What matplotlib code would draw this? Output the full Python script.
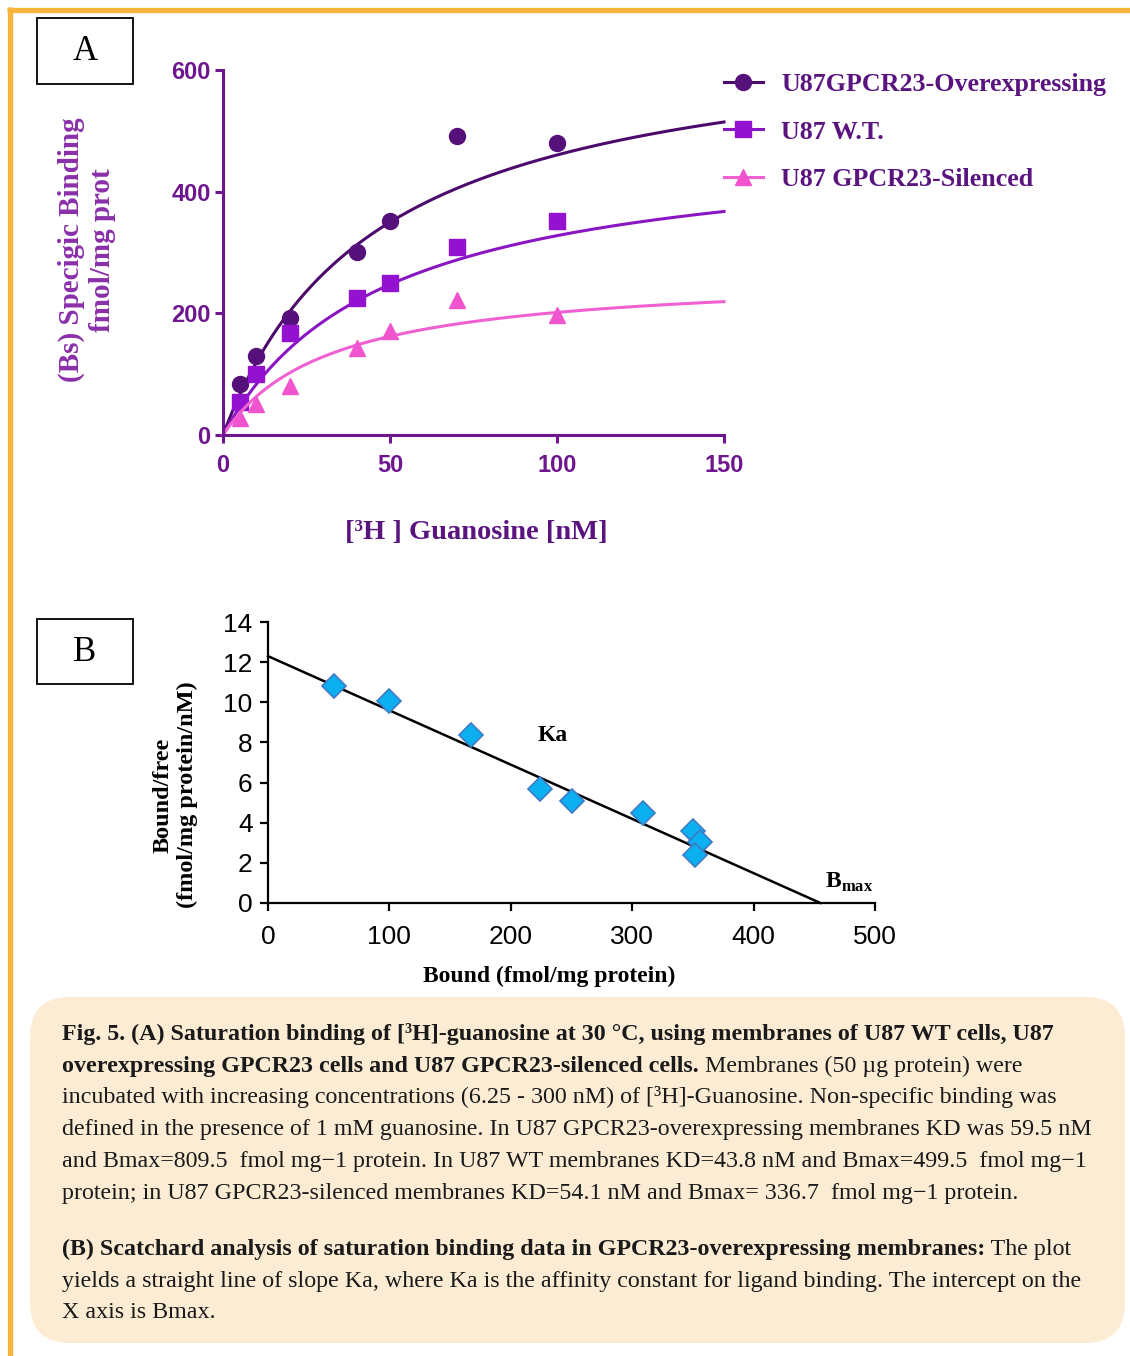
import numpy as np
import matplotlib
matplotlib.use("Agg")
import matplotlib.pyplot as plt
from matplotlib.lines import Line2D
from matplotlib.patches import Rectangle, FancyBboxPatch

plt.rcParams["font.family"] = "Liberation Serif"
plt.rcParams["mathtext.fontset"] = "custom"
plt.rcParams["mathtext.rm"] = "Liberation Serif"
plt.rcParams["mathtext.bf"] = "Liberation Serif:bold"

# Panel A: saturation binding (nM vs fmol/mg prot)
conc = [5, 10, 20, 40, 50, 70, 100]
over_bs = [84, 130, 192, 301, 352, 492, 480]
wt_bs = [54, 100, 168, 225, 250, 309, 352]
sil_bs = [28, 51, 80, 143, 171, 222, 197]
# fitted one-site curves (Bmax, Kd)
over_fit = (673, 46.2)
wt_fit = (485, 48.0)
sil_fit = (266, 32.0)
series_names = ["U87GPCR23-Overexpressing", "U87 W.T.", "U87 GPCR23-Silenced"]

# Panel B: Scatchard
bound = [54, 100, 167, 224, 250, 309, 350, 356, 352]
bound_free = [10.8, 10.06, 8.37, 5.68, 5.08, 4.48, 3.59, 3.04, 2.39]
scat_intercept = 12.3
scat_bmax = 455

W, H = 1130, 1356
fig = plt.figure(figsize=(W / 100, H / 100), dpi=100)

# background layer in pixel coordinates
bg = fig.add_axes([0, 0, 1, 1], zorder=0)
bg.set_xlim(0, W)
bg.set_ylim(H, 0)
bg.axis("off")

orange = "#f9b43c"
bg.plot([7, W], [9.5, 9.5], color=orange, lw=3.8, solid_capstyle="butt")
bg.plot([9.5, 9.5], [7, H], color=orange, lw=3.8, solid_capstyle="butt")

for lab, (x0, y0, x1, y1) in [("A", (37, 18, 133, 84)), ("B", (37, 619, 133, 684))]:
    bg.add_patch(Rectangle((x0, y0), x1 - x0, y1 - y0, fill=False, ec="black", lw=1.3))
    bg.text((x0 + x1) / 2, (y0 + y1) / 2 + 1, lab, ha="center", va="center", fontsize=25)

bg.add_patch(FancyBboxPatch((30 + 40, 997 + 40), 1095 - 80, 346 - 80,
                            boxstyle="round,pad=40", fc="#fdecd4", ec="none"))

cap_lines = [
    [("Fig. 5. (A) Saturation binding of [³H]-guanosine at 30 °C, using membranes of U87 WT cells, U87", "bold")],
    [("overexpressing GPCR23 cells and U87 GPCR23-silenced cells.", "bold"),
     (" Membranes (50 µg protein) were", "normal")],
    [("incubated with increasing concentrations (6.25 - 300 nM) of [³H]-Guanosine. Non-specific binding was", "normal")],
    [("defined in the presence of 1 mM guanosine. In U87 GPCR23-overexpressing membranes KD was 59.5 nM", "normal")],
    [("and Bmax=809.5  fmol mg−1 protein. In U87 WT membranes KD=43.8 nM and Bmax=499.5  fmol mg−1", "normal")],
    [("protein; in U87 GPCR23-silenced membranes KD=54.1 nM and Bmax= 336.7  fmol mg−1 protein.", "normal")],
    [("(B) Scatchard analysis of saturation binding data in GPCR23-overexpressing membranes:", "bold"),
     (" The plot", "normal")],
    [("yields a straight line of slope Ka, where Ka is the affinity constant for ligand binding. The intercept on the", "normal")],
    [("X axis is Bmax.", "normal")],
]
baselines = [1040, 1071.7, 1103.4, 1135, 1166.8, 1198.5, 1255, 1286.7, 1318.4]
cap_size = 17.3
for segs, yb in zip(cap_lines, baselines):
    prev = None
    for s, wgt in segs:
        if prev is None:
            prev = bg.text(62, yb, s, fontsize=cap_size, fontweight=wgt, va="baseline", color="#1a1a1a")
        else:
            prev = bg.annotate(s, xy=(1, 0), xycoords=prev, va="bottom", ha="left",
                               fontsize=cap_size, fontweight=wgt, color="#1a1a1a")

# ---------------- Panel A ----------------
axA = fig.add_axes([223 / W, 1 - 435 / H, 501 / W, 365 / H], zorder=2)
axA.patch.set_alpha(0)
purple = "#6e168f"
colors = ["#55107a", "#9212cf", "#f055cf"]
line_colors = ["#4c0a6c", "#8a15c2", "#f060d2"]
markers = ["o", "s", "^"]
data_a = [over_bs, wt_bs, sil_bs]
fits = [over_fit, wt_fit, sil_fit]

xs = np.linspace(0, 150, 300)
for ys, (bmax, kd), c, lc, m in zip(data_a, fits, colors, line_colors, markers):
    axA.plot(xs, bmax * xs / (kd + xs), color=lc, lw=2.2, clip_on=False)
    axA.plot(conc, ys, linestyle="none", marker=m, ms=11.5, color=c, mec=c, clip_on=False)

axA.set_xlim(0, 150)
axA.set_ylim(0, 600)
axA.set_xticks([0, 50, 100, 150])
axA.set_yticks([0, 200, 400, 600])
for sp in ["top", "right"]:
    axA.spines[sp].set_visible(False)
for sp in ["left", "bottom"]:
    axA.spines[sp].set_color(purple)
    axA.spines[sp].set_linewidth(2.2)
axA.tick_params(colors=purple, width=2.2, length=6, direction="out", labelsize=17)
axA.tick_params(axis="x", pad=8)
axA.tick_params(axis="y", pad=3)
for t in axA.get_xticklabels() + axA.get_yticklabels():
    t.set_fontfamily("Liberation Sans")
    t.set_fontweight("bold")

axA.set_xlabel("[³H ] Guanosine [nM]", fontsize=20.5, fontweight="bold", color="#5a1480", va="center")
axA.xaxis.set_label_coords(0.505, -0.268)
axA.set_ylabel("(Bs) Specigic Binding\nfmol/mg prot", fontsize=21, fontweight="bold", color="#8a30aa",
               va="center", ha="center", linespacing=1.2)
axA.yaxis.set_label_coords(-0.271, 0.507)

handles = [Line2D([], [], color=lc, lw=2.2, marker=m, ms=11.5, mfc=c, mec=c)
           for c, lc, m in zip(colors, line_colors, markers)]
fig.legend(handles, series_names, loc="upper left", bbox_to_anchor=(724 / W, 1 - 73 / H),
           frameon=False, labelcolor="#5a1480", prop={"weight": "bold", "size": 18.7},
           handlelength=1.5, handletextpad=0.7, labelspacing=0.93, borderpad=0, borderaxespad=0)

# ---------------- Panel B ----------------
axB = fig.add_axes([268 / W, 1 - 903 / H, 607 / W, 281 / H], zorder=2)
axB.patch.set_alpha(0)
axB.plot([0, scat_bmax], [scat_intercept, 0], color="black", lw=1.8, clip_on=False)
axB.plot(bound, bound_free, linestyle="none", marker="D", ms=12, mfc="#0bb0f0", mec="#3d7cc4",
         mew=1.2, clip_on=False)
axB.set_xlim(0, 500)
axB.set_ylim(0, 14)
axB.set_xticks(range(0, 501, 100))
axB.set_yticks(range(0, 15, 2))
for sp in ["top", "right"]:
    axB.spines[sp].set_visible(False)
for sp in ["left", "bottom"]:
    axB.spines[sp].set_linewidth(1.6)
axB.tick_params(width=1.6, length=6, direction="out", labelsize=19)
axB.tick_params(axis="x", pad=10)
axB.tick_params(axis="y", pad=5)
for t in axB.get_xticklabels() + axB.get_yticklabels():
    t.set_fontfamily("Liberation Sans")

axB.set_xlabel("Bound (fmol/mg protein)", fontsize=17, fontweight="bold", va="center")
axB.xaxis.set_label_coords(0.463, -0.263)
axB.set_ylabel("Bound/free\n(fmol/mg protein/nM)", fontsize=17.5, fontweight="bold",
               va="center", ha="center", linespacing=1.2)
axB.yaxis.set_label_coords(-0.153, 0.384)

axB.text(234.8, 8.37, "Ka", fontsize=17, fontweight="bold", ha="center", va="center")
axB.text(458.8, 0.75, r"$\mathbf{B}_{\mathbf{max}}$", fontsize=17, ha="left", va="baseline")

fig.savefig("out.png", dpi=100)
